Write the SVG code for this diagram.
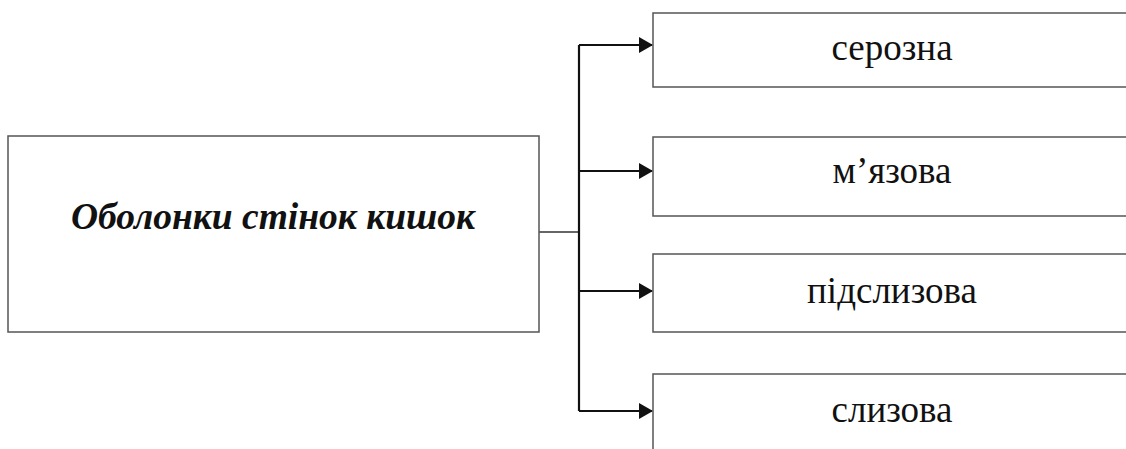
<svg xmlns="http://www.w3.org/2000/svg" width="1126" height="449" viewBox="0 0 1126 449">
<style>
.box{fill:#fff;stroke:#555;stroke-width:1.5}
.lbl{font-family:"Liberation Serif",serif;font-size:37px;fill:#111;text-anchor:middle}
.main{font-family:"Liberation Serif",serif;font-size:37.5px;font-weight:bold;font-style:italic;fill:#111;text-anchor:middle}
.con{fill:none;stroke:#111;stroke-width:2.2}
.thin{fill:none;stroke:#333;stroke-width:1.5}
</style>
<defs>
<marker id="arr" markerWidth="14" markerHeight="16" refX="13" refY="8" orient="auto" markerUnits="userSpaceOnUse">
<path d="M0,0 L14,8 L0,16 Z" fill="#111"/>
</marker>
</defs>
<rect width="1126" height="449" fill="#fff"/>
<g id="connectors">
<path class="thin" d="M539,232 H579"/>
<path class="con" d="M579,45 V411"/>
<path class="con" d="M579,45 H652" marker-end="url(#arr)"/>
<path class="con" d="M579,171 H652" marker-end="url(#arr)"/>
<path class="con" d="M579,291 H652" marker-end="url(#arr)"/>
<path class="con" d="M579,411 H652" marker-end="url(#arr)"/>
</g>
<g id="main">
<rect class="box" x="8" y="136" width="531" height="196"/>
<text class="main" x="273" y="229">Оболонки стінок кишок</text>
</g>
<g id="n1">
<rect class="box" x="653" y="13" width="480" height="74"/>
<text class="lbl" x="892" y="60">серозна</text>
</g>
<g id="n2">
<rect class="box" x="653" y="137" width="480" height="79"/>
<text class="lbl" x="892" y="183">м’язова</text>
</g>
<g id="n3">
<rect class="box" x="653" y="254" width="480" height="78"/>
<text class="lbl" x="892" y="303">підслизова</text>
</g>
<g id="n4">
<rect class="box" x="653" y="374" width="480" height="90"/>
<text class="lbl" x="892" y="422">слизова</text>
</g>
</svg>
